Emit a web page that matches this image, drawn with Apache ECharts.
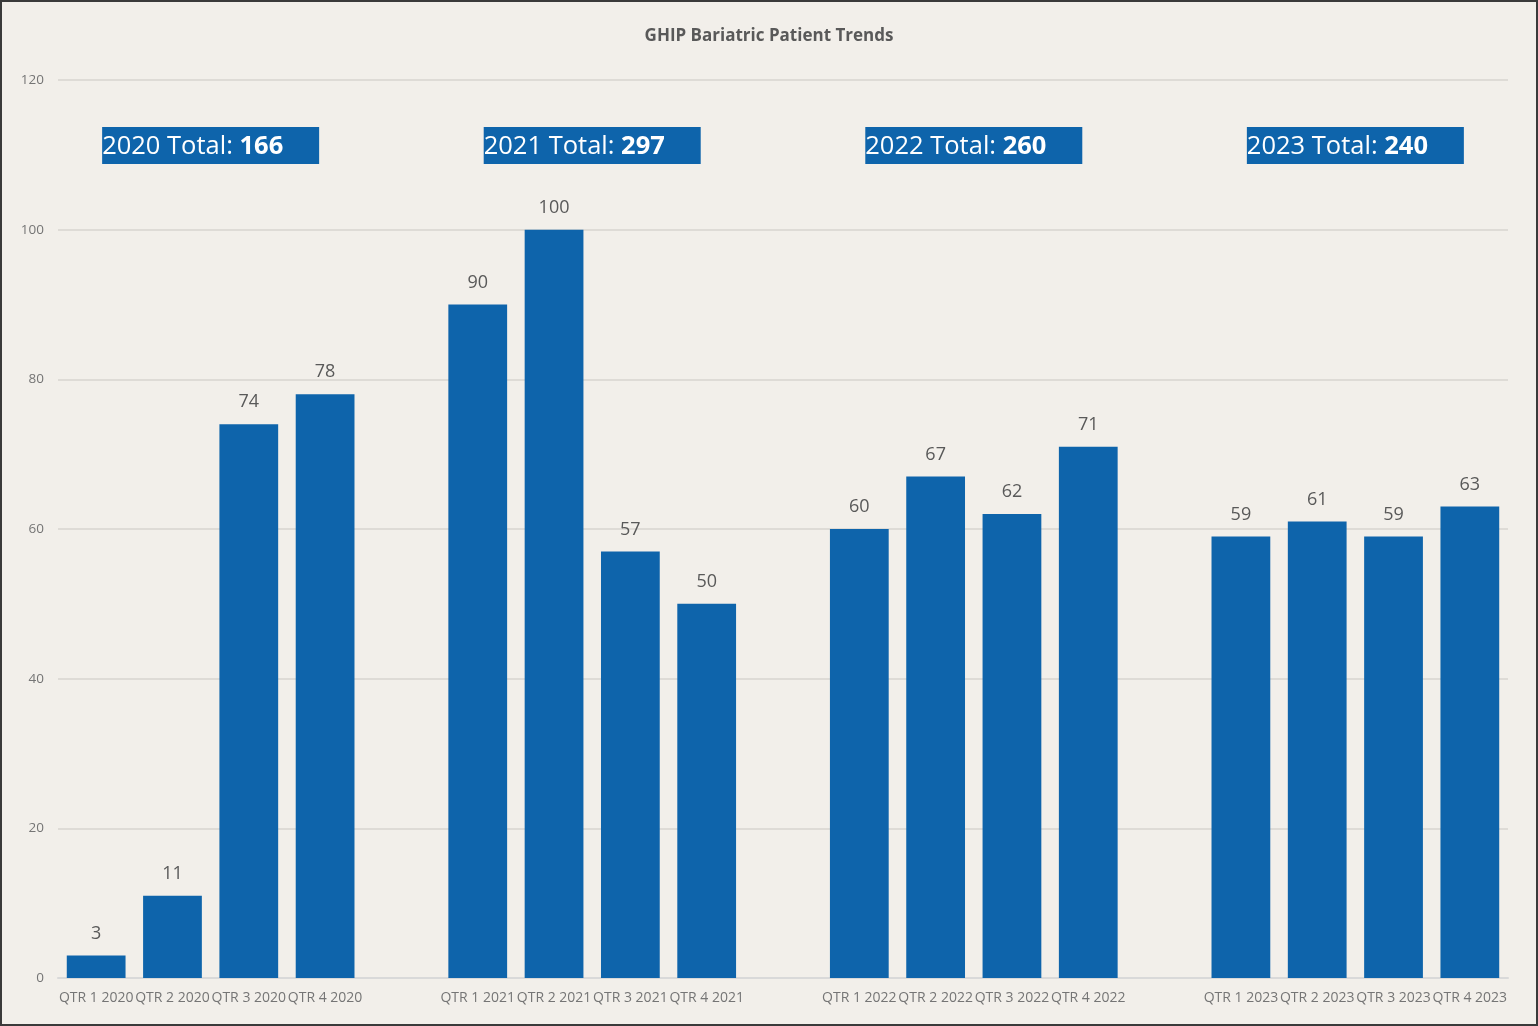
<!DOCTYPE html>
<html><head><meta charset="utf-8">
<script src="https://cdn.jsdelivr.net/npm/echarts@6/dist/echarts.min.js"></script>
<style>
html,body{margin:0;padding:0;background:#F2EFEA;}
#c{position:absolute;left:0;top:0;width:1538px;height:1026px;}
#frame{position:absolute;left:0;top:0;width:1538px;height:1026px;box-sizing:border-box;border:2px solid #3a3a3a;pointer-events:none;}
</style></head>
<body><div id="c"></div><div id="frame"></div>
<script>
const categories = ['QTR 1 2020','QTR 2 2020','QTR 3 2020','QTR 4 2020','',
  'QTR 1 2021','QTR 2 2021','QTR 3 2021','QTR 4 2021',' ',
  'QTR 1 2022','QTR 2 2022','QTR 3 2022','QTR 4 2022','  ',
  'QTR 1 2023','QTR 2 2023','QTR 3 2023','QTR 4 2023'];
const values = [3,11,74,78,null,90,100,57,50,null,60,67,62,71,null,59,61,59,63];
const yearLabels = ['2020','2021','2022','2023'];
const yearTotals = [166,297,260,240];
const yearFirstIdx = [0,5,10,15];
const yTicks = [0,20,40,60,80,100,120];

const FONT = '"Open Sans", "Noto Sans", sans-serif';
const chart = echarts.init(document.getElementById('c'));
chart.setOption({
  backgroundColor: '#F2EFEA',
  animation: false,
  title: {text:'GHIP Bariatric Patient Trends', left:'center', top:23,
    textStyle:{fontFamily:FONT, fontSize:17, fontWeight:'bold', color:'#595959'}},
  grid: {left:58, right:30, top:80, bottom:48},
  xAxis: {type:'category', data:categories,
    axisLine:{lineStyle:{color:'#D9D9D9', width:2}}, axisTick:{show:false},
    axisLabel:{interval:0, color:'#757575', fontFamily:FONT, fontSize:14, margin:13}},
  yAxis: {type:'value', min:yTicks[0], max:yTicks[yTicks.length-1], interval:20,
    axisLine:{show:false}, axisTick:{show:false},
    splitLine:{lineStyle:{color:'#DEDBD6', width:2}},
    axisLabel:{color:'#757575', fontFamily:FONT, fontSize:13.5, margin:14}},
  series: [{type:'bar', data:values, barCategoryGap:'23%',
    itemStyle:{color:'#0E64AB'},
    label:{show:true, position:'top', distance:13, color:'#595959', fontFamily:FONT, fontSize:18}}]
});
const graphics = [];
yearLabels.forEach((y,i)=>{
  const a = chart.convertToPixel({gridIndex:0}, [yearFirstIdx[i], 111.25]);
  const b = chart.convertToPixel({gridIndex:0}, [yearFirstIdx[i]+3, 111.25]);
  const cx = (a[0]+b[0])/2, cy = a[1];
  graphics.push({type:'rect', shape:{x:cx-108.5, y:cy-18.5, width:217, height:37},
    style:{fill:'#0E64AB'}});
  graphics.push({type:'text', x:cx-108.5, y:cy+1, style:{
    rich:{n:{fontFamily:FONT, fontSize:25.5, fill:'#fff', color:'#fff'}, b:{fontFamily:FONT, fontSize:25.5, fontWeight:'bold', fill:'#fff', color:'#fff'}},
    text:'{n|'+y+' Total: }{b|'+yearTotals[i]+'}', fill:'#fff', verticalAlign:'middle', align:'left'}});
});
chart.setOption({graphic:graphics});
</script></body></html>
